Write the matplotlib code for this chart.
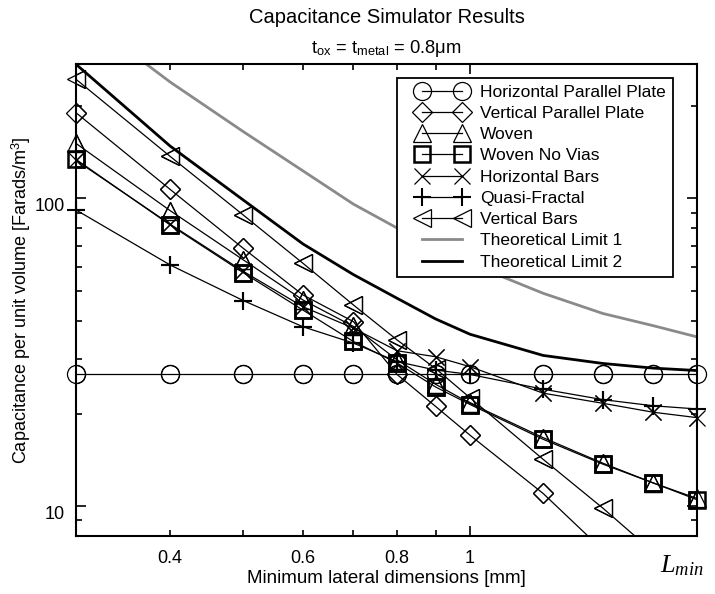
import numpy as np
import matplotlib
matplotlib.use('Agg')
import matplotlib.pyplot as plt
from matplotlib.lines import Line2D
from matplotlib.legend_handler import HandlerLine2D
from matplotlib.ticker import FixedLocator, NullFormatter

plt.rcParams['font.family'] = 'Liberation Sans'
plt.rcParams['mathtext.fontset'] = 'custom'
plt.rcParams['mathtext.rm'] = 'Liberation Sans'
plt.rcParams['mathtext.it'] = 'Liberation Serif:italic'

# minimum lateral dimension (um)
lmin = [0.3, 0.4, 0.5, 0.6, 0.7, 0.8, 0.9, 1.0, 1.25, 1.5, 1.75, 2.0]

# capacitance per unit volume
horiz_pp = [26.9, 26.9, 26.9, 26.9, 26.9, 26.9, 26.9, 26.9, 26.9, 26.9, 26.9, 26.9]
vert_pp = [190, 107, 68.9, 48.6, 39.8, 26.8, 21.1, 17.0, 11.0, 7.2, 5.6, 4.4]
woven = [151, 91.3, 63.2, 46.8, 38.4, 29.9, 24.9, 21.6, 16.7, 13.8, 11.9, 10.6]
woven_nv = [134, 82.0, 57.4, 43.4, 34.3, 29.2, 24.4, 21.4, 16.5, 13.7, 11.9, 10.5]
horiz_bars = [133, 82.5, 58.0, 44.5, 37.9, 32.0, 30.6, 28.4, 23.3, 21.6, 20.2, 19.4]
quasi_fract = [91.8, 60.8, 46.6, 38.3, 33.9, 29.5, 27.7, 26.8, 24.0, 22.2, 21.2, 20.7]
vert_bars = [244, 137, 88.4, 61.6, 45.1, 34.7, 28.0, 22.5, 14.2, 9.86, 7.1, 5.6]
theo1 = [406, 239, 165, 123, 95.9, 80.2, 69.6, 61.4, 49.2, 42.3, 38.6, 35.5]
theo2 = [273, 148, 98.9, 71.2, 56.6, 47.4, 40.6, 36.2, 30.9, 29.1, 28.1, 27.6]

ylo, yhi = 8, 273

fig = plt.figure(figsize=(7.15, 5.94), dpi=100)
ax = fig.add_axes([0.1063, 0.0976, 0.8685, 0.7942])

series = [
    (horiz_pp, 'Horizontal Parallel Plate', dict(marker='o', ms=13, mew=0.9)),
    (vert_pp, 'Vertical Parallel Plate', dict(marker='D', ms=10, mew=0.9)),
    (woven, 'Woven', dict(marker='^', ms=13, mew=0.9)),
    (woven_nv, 'Woven No Vias', dict(marker='s', ms=11, mew=1.8)),
    (horiz_bars, 'Horizontal Bars', dict(marker='x', ms=12, mew=0.9)),
    (quasi_fract, 'Quasi-Fractal', dict(marker='+', ms=13, mew=1.5)),
    (vert_bars, 'Vertical Bars', dict(marker='<', ms=13, mew=0.9)),
]
for vals, name, m in series:
    ax.plot(lmin, vals, color='black', lw=0.9, mfc='none', mec='black', label=name, **m)
    # markers at the edges are not cut by the axes box
    v = np.array(vals, dtype=float)
    x = np.array(lmin)
    ok = (v >= ylo) & (v <= yhi)
    ax.plot(x[ok], v[ok], ls='none', mfc='none', mec='black', clip_on=False, **m)

ax.plot(lmin, theo1, color='#8a8a8a', lw=2.0, label='Theoretical Limit 1')
ax.plot(lmin, theo2, color='black', lw=2.0, label='Theoretical Limit 2')

ax.set_xscale('log')
ax.set_yscale('log')
ax.set_xlim(0.3, 2.0)
ax.set_ylim(ylo, yhi)

ax.xaxis.set_major_locator(FixedLocator([1]))
ax.set_xticklabels(['1'])
ax.set_xticks([0.4, 0.5, 0.6, 0.7, 0.8, 0.9, 2.0], minor=True)
ax.set_xticklabels(['0.4', '', '0.6', '', '0.8', '', ''], minor=True)
ax.yaxis.set_major_locator(FixedLocator([10, 100]))
ax.set_yticklabels(['10', '100'])
ax.set_yticks([9, 20, 30, 40, 50, 60, 70, 80, 90, 200], minor=True)
ax.yaxis.set_minor_formatter(NullFormatter())
for lab in ax.get_yticklabels():
    lab.set_va('top')

ax.tick_params(which='both', direction='in', top=True, right=True, labelsize=13, width=1.2)
ax.tick_params(which='major', length=7)
ax.tick_params(which='minor', length=4)
ax.tick_params(axis='x', which='both', pad=10)
ax.tick_params(axis='y', which='both', pad=8)
for s in ax.spines.values():
    s.set_linewidth(1.5)

ax.set_xlabel('Minimum lateral dimensions [mm]', fontsize=13.5, labelpad=2)
ax.set_ylabel('Capacitance per unit volume [Farads/m$^3$]', fontsize=13, labelpad=1)

fig.text(0.5406, 0.970, 'Capacitance Simulator Results', ha='center', va='center', fontsize=14.5)
fig.text(0.5406, 0.919, r't$_{\mathrm{ox}}$ = t$_{\mathrm{metal}}$ = 0.8μm', ha='center', va='center', fontsize=13.2)
fig.text(0.954, 0.048, r'$L_{min}$', ha='center', va='center', fontsize=19)

leg = ax.legend(loc='upper left', bbox_to_anchor=(0.5164, 0.9716), borderaxespad=0,
                numpoints=2, fontsize=12.5, handlelength=4.4, handletextpad=0.0,
                labelspacing=0.35, fancybox=False, framealpha=1, borderpad=0.4,
                handler_map={Line2D: HandlerLine2D(marker_pad=1.04)})
leg.get_frame().set_edgecolor('black')
leg.get_frame().set_linewidth(1.3)

fig.savefig('out.png', dpi=100)
